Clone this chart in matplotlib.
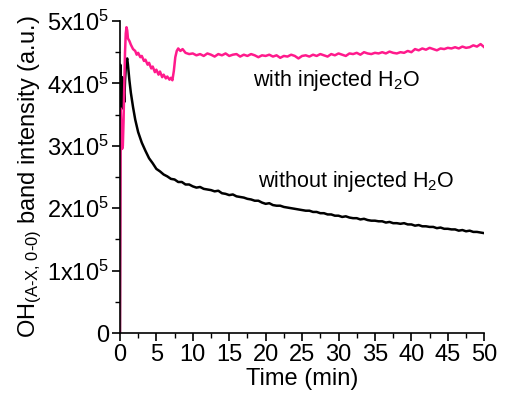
import matplotlib
matplotlib.use("Agg")
import matplotlib.pyplot as plt
from matplotlib.ticker import MultipleLocator, FuncFormatter

plt.rcParams['font.family'] = ['Liberation Sans', 'DejaVu Sans']
plt.rcParams['mathtext.fontset'] = 'custom'
plt.rcParams['mathtext.rm'] = 'Liberation Sans'
plt.rcParams['mathtext.it'] = 'Liberation Sans'
plt.rcParams['mathtext.bf'] = 'Liberation Sans:bold'

# time (min) and intensity (x1e5 a.u.)
t_without = [0, 0.05, 0.1, 0.2, 0.3, 0.4, 0.5, 0.6, 0.7, 0.8, 0.9, 1.0, 1.1, 1.3, 1.5,
             1.8, 2.1, 2.5, 3.0, 3.5, 4.0, 4.5, 5.0, 5.5, 6, 6.5, 7, 7.5, 8, 8.5, 9, 9.5]
i_without = [0, 4.3, 4.2, 3.65, 4.1, 3.6, 3.9, 3.7, 4.05, 4.25, 4.35, 4.4, 4.3, 4.05, 3.85,
             3.62, 3.42, 3.22, 3.05, 2.92, 2.80, 2.72, 2.63, 2.59, 2.54, 2.51, 2.47, 2.46, 2.42, 2.42, 2.38, 2.38]

t_with = [0, 0.1, 0.2, 0.3, 0.4, 0.5, 0.6, 0.7, 0.8, 0.9, 1.0, 1.1, 1.3, 1.5, 1.8,
          2.1, 2.3, 2.5, 2.8, 3, 3.3, 3.5, 3.8, 4, 4.3, 4.5, 4.8, 5, 5.3, 5.5, 5.8, 6, 6.3,
          6.5, 6.8, 7, 7.2, 7.4, 7.6, 7.8, 8.0, 8.3, 8.6, 9, 9.5]
i_with = [0, 3.6, 3.3, 2.95, 3.0, 3.4, 4.0, 4.5, 4.8, 4.9, 4.85, 4.72, 4.68, 4.62, 4.55,
          4.52, 4.46, 4.49, 4.42, 4.44, 4.36, 4.38, 4.30, 4.33, 4.24, 4.27, 4.18, 4.22, 4.14, 4.19, 4.10, 4.14, 4.08,
          4.11, 4.06, 4.09, 4.05, 4.2, 4.42, 4.52, 4.56, 4.52, 4.55, 4.49, 4.47]

# shared half-minute grid for the long tails
t_tail = [10, 10.5, 11, 11.5, 12, 12.5, 13, 13.5, 14, 14.5, 15, 15.5, 16, 16.5, 17, 17.5,
          18, 18.5, 19, 19.5, 20, 20.5, 21, 21.5, 22, 22.5, 23, 23.5, 24, 24.5, 25, 25.5,
          26, 26.5, 27, 27.5, 28, 28.5, 29, 29.5, 30, 30.5, 31, 31.5, 32, 32.5, 33, 33.5,
          34, 34.5, 35, 35.5, 36, 36.5, 37, 37.5, 38, 38.5, 39, 39.5, 40, 40.5, 41, 41.5,
          42, 42.5, 43, 43.5, 44, 44.5, 45, 45.5, 46, 46.5, 47, 47.5, 48, 48.5, 49, 49.5, 50]
tail_without = [2.35, 2.33, 2.34, 2.31, 2.30, 2.29, 2.27, 2.28, 2.24, 2.23, 2.21, 2.22, 2.19, 2.18, 2.17, 2.15,
                2.14, 2.12, 2.12, 2.09, 2.07, 2.08, 2.05, 2.04, 2.04, 2.02, 2.01, 2.00, 1.99, 1.98, 1.97, 1.96,
                1.96, 1.94, 1.94, 1.92, 1.92, 1.90, 1.90, 1.88, 1.88, 1.86, 1.87, 1.85, 1.84, 1.84, 1.82, 1.83,
                1.81, 1.80, 1.80, 1.79, 1.79, 1.77, 1.78, 1.76, 1.76, 1.75, 1.76, 1.74, 1.74, 1.72, 1.73, 1.71,
                1.71, 1.70, 1.70, 1.68, 1.69, 1.67, 1.67, 1.66, 1.66, 1.64, 1.65, 1.63, 1.64, 1.62, 1.62, 1.61, 1.60]
tail_with = [4.48, 4.45, 4.47, 4.44, 4.48, 4.46, 4.43, 4.47, 4.45, 4.48, 4.44, 4.46, 4.47, 4.43, 4.46, 4.44,
             4.47, 4.45, 4.42, 4.45, 4.44, 4.46, 4.43, 4.45, 4.41, 4.44, 4.43, 4.46, 4.44, 4.40, 4.44, 4.45,
             4.43, 4.46, 4.44, 4.47, 4.45, 4.43, 4.47, 4.45, 4.48, 4.46, 4.44, 4.48, 4.47, 4.49, 4.46, 4.50,
             4.48, 4.47, 4.49, 4.48, 4.50, 4.48, 4.51, 4.49, 4.48, 4.50, 4.49, 4.52, 4.50, 4.55, 4.53, 4.56,
             4.54, 4.57, 4.55, 4.53, 4.56, 4.55, 4.57, 4.56, 4.58, 4.56, 4.59, 4.57, 4.58, 4.61, 4.59, 4.63, 4.58]

fig = plt.figure(figsize=(5.06, 4.00), dpi=100)
ax = fig.add_axes([0.237, 0.1675, 0.72, 0.78])

ax.plot(t_without + t_tail, [v * 1e5 for v in i_without + tail_without], color='black', lw=1.8)
ax.plot(t_with + t_tail, [v * 1e5 for v in i_with + tail_with], color='#ff1a8c', lw=1.8)

ax.set_xlim(0, 50)
ax.set_ylim(0, 5e5)
ax.xaxis.set_major_locator(MultipleLocator(5))
ax.xaxis.set_minor_locator(MultipleLocator(2.5))
ax.yaxis.set_major_locator(MultipleLocator(1e5))
ax.yaxis.set_minor_locator(MultipleLocator(0.5e5))


def sci(v, pos):
    n = int(round(v / 1e5))
    return '0' if n == 0 else r'%dx10$^5$' % n


ax.yaxis.set_major_formatter(FuncFormatter(sci))
for s in ['top', 'right']:
    ax.spines[s].set_visible(False)
ax.spines['left'].set_linewidth(1.2)
ax.spines['bottom'].set_linewidth(1.2)
ax.tick_params(which='major', direction='out', length=6, width=1.2, labelsize=17, pad=2)
ax.tick_params(which='minor', direction='out', length=3.5, width=1.0)

ax.set_xlabel('Time (min)', fontsize=17, labelpad=1)
ax.set_ylabel(r'OH$_{\text{(A-X, 0-0)}}$ band intensity (a.u.)', fontsize=17, labelpad=2)

ax.text(18.3, 4.05e5, r'with injected H$_2$O', fontsize=15.5, va='center')
ax.text(19.0, 2.42e5, r'without injected H$_2$O', fontsize=15.5, va='center')

fig.savefig('out.png', dpi=100)
